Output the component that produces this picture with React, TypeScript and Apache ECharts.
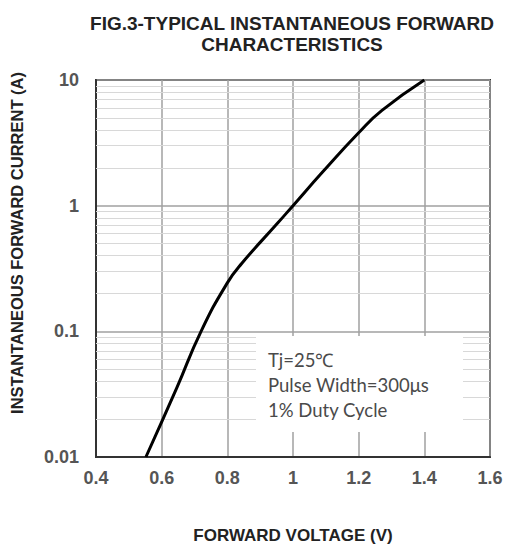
import React, { useEffect, useRef } from "react";
import * as echarts from "echarts";

const forwardVoltage = [0.552, 0.647, 0.72, 0.8, 0.845, 0.954, 1.0, 1.09, 1.2, 1.27, 1.4];
const forwardCurrent = [0.01, 0.036, 0.1, 0.243, 0.35, 0.73, 1.0, 1.85, 3.8, 5.7, 10];
const minorGridValues = [
  0.02, 0.03, 0.04, 0.05, 0.06, 0.07, 0.08, 0.09,
  0.2, 0.3, 0.4, 0.5, 0.6, 0.7, 0.8, 0.9,
  2, 3, 4, 5, 6, 7, 8, 9,
];
const titleLines = ["FIG.3-TYPICAL INSTANTANEOUS FORWARD", "CHARACTERISTICS"];
const xAxisName = "FORWARD VOLTAGE (V)";
const yAxisName = "INSTANTANEOUS FORWARD CURRENT (A)";
const noteLines = ["Tj=25\u2103", "Pulse Width=300\u03bcs", "1% Duty Cycle"];

export default function App() {
  const ref = useRef<HTMLDivElement>(null);
  useEffect(() => {
    if (!ref.current) return;
    const chart = echarts.init(ref.current, null, { renderer: "svg" });
    chart.setOption({
      animation: false,
      backgroundColor: "#ffffff",
      title: {
        text: titleLines.join("\n"),
        left: 287,
        textAlign: "center",
        top: 8,
        textStyle: {
          fontFamily: "Liberation Sans",
          fontWeight: "bold",
          fontSize: 19,
          color: "#222",
          lineHeight: 21,
        },
      },
      grid: {
        left: 96,
        right: 15,
        top: 80,
        bottom: 87,
        outerBoundsMode: "none",
        containLabel: false,
        show: true,
        borderColor: "#333",
        borderWidth: 2,
        backgroundColor: "transparent",
      },
      xAxis: {
        type: "value",
        min: 0.4,
        max: 1.6,
        interval: 0.2,
        name: xAxisName,
        nameLocation: "middle",
        nameGap: 70,
        nameTextStyle: {
          fontFamily: "Liberation Sans",
          fontWeight: "bold",
          fontSize: 17,
          color: "#222",
        },
        axisLine: { show: true, lineStyle: { color: "#333", width: 2 } },
        axisTick: { show: false },
        axisLabel: {
          margin: 12,
          fontFamily: "Liberation Sans",
          fontWeight: "bold",
          fontSize: 18,
          color: "#555",
          formatter: (v: number) => String(Number(v.toFixed(1))),
        },
        splitLine: { show: true, lineStyle: { color: "#a0a0a0", width: 1.5 } },
      },
      yAxis: {
        type: "log",
        logBase: 10,
        min: 0.01,
        max: 10,
        axisLine: { show: true, lineStyle: { color: "#333", width: 2 } },
        axisTick: { show: false },
        axisLabel: {
          margin: 17,
          fontFamily: "Liberation Sans",
          fontWeight: "bold",
          fontSize: 18,
          color: "#555",
          formatter: (v: number) => String(Number(v.toPrecision(3))),
        },
        splitLine: { show: true, lineStyle: { color: "#a0a0a0", width: 1.5 } },
      },
      series: [
        {
          type: "line",
          data: [],
          z: 1,
          silent: true,
          markLine: {
            silent: true,
            symbol: "none",
            label: { show: false },
            lineStyle: { color: "#d8d8d8", width: 1.2, type: "solid" },
            data: minorGridValues.map((v) => ({ yAxis: v })),
          },
        },
        {
          type: "line",
          smooth: 0.5,
          showSymbol: false,
          z: 5,
          lineStyle: { color: "#000", width: 3 },
          data: forwardVoltage.map((v, i) => [v, forwardCurrent[i]]),
        },
      ],
      graphic: [
        {
          type: "text",
          x: 17,
          y: 243,
          rotation: Math.PI / 2,
          style: {
            text: yAxisName,
            fontFamily: "Liberation Sans",
            fontWeight: "bold",
            fontSize: 16.5,
            fill: "#222",
            align: "center",
            verticalAlign: "middle",
          },
        },
        {
          type: "rect",
          z: 10,
          shape: { x: 256, y: 336, width: 207, height: 96 },
          style: { fill: "#ffffff" },
        },
        ...noteLines.map((t, i) => ({
          type: "text",
          z: 11,
          x: 268,
          y: 360 + i * 25,
          style: {
            text: t,
            fontFamily: "Lato",
            fontSize: 18.5,
            fill: "#4a4a4a",
            verticalAlign: "middle",
          },
        })),
      ],
    });
    return () => chart.dispose();
  }, []);
  return (
    <div
      ref={ref}
      style={{ position: "fixed", left: 0, top: 0, width: 505, height: 544 }}
    />
  );
}
